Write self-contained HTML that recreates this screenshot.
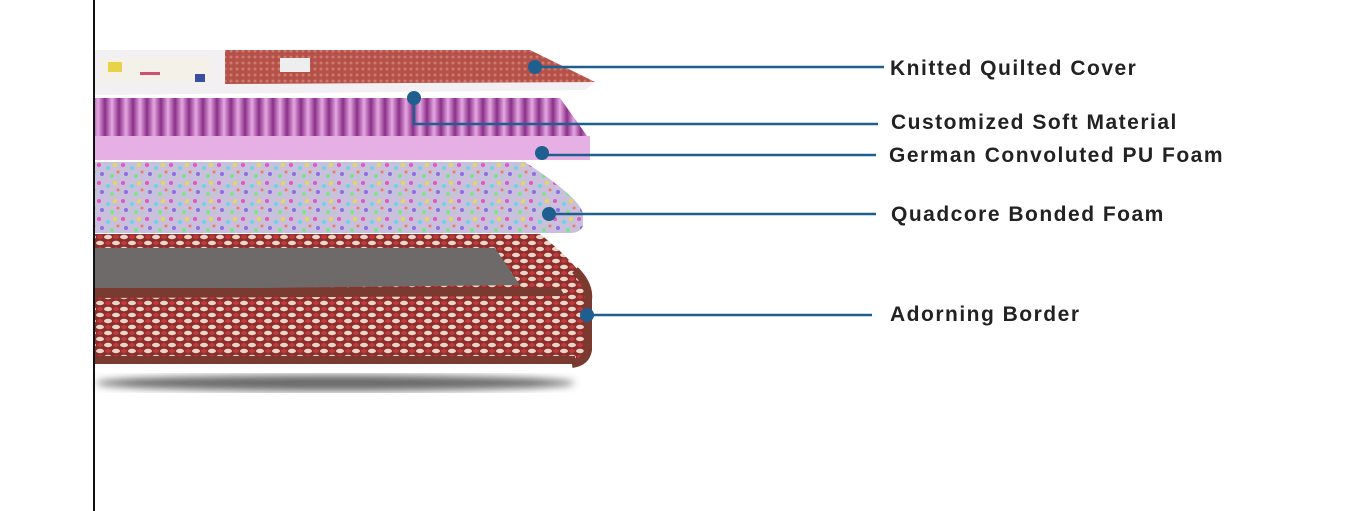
<!DOCTYPE html>
<html><head><meta charset="utf-8"><style>
html,body{margin:0;padding:0;background:#fff;width:1366px;height:511px;overflow:hidden}
svg{display:block}
text{font-family:"Liberation Sans",sans-serif;font-weight:bold;font-size:21px;fill:#222;letter-spacing:1.5px}
</style></head><body>
<svg width="1366" height="511" viewBox="0 0 1366 511">
<defs>
<linearGradient id="sh" x1="0" y1="0" x2="0" y2="1"><stop offset="0" stop-color="#fff"/><stop offset=".5" stop-color="#555"/><stop offset="1" stop-color="#fff"/></linearGradient>
<linearGradient id="st" x1="0" y1="0" x2="1" y2="0"><stop offset="0" stop-color="#e6a8e2"/><stop offset=".5" stop-color="#8a2f88"/><stop offset="1" stop-color="#e6a8e2"/></linearGradient>
<pattern id="wave" width="14" height="60" patternUnits="userSpaceOnUse"><rect width="14" height="60" fill="url(#st)"/></pattern>
<pattern id="conf" width="24" height="18" patternUnits="userSpaceOnUse"><rect width="24" height="18" fill="#c9c0dc"/><circle cx="3" cy="3" r="2" fill="#e455c7"/><circle cx="12" cy="6" r="2" fill="#6fd3e8"/><circle cx="19" cy="3" r="2" fill="#e9d94f"/><circle cx="6" cy="12" r="2" fill="#8a6fe2"/><circle cx="16" cy="14" r="2" fill="#7ee38c"/><circle cx="22" cy="10" r="1.5" fill="#f07a6a"/></pattern>
<pattern id="weave" width="16" height="12" patternUnits="userSpaceOnUse"><rect width="16" height="12" fill="#8a2f2c"/><ellipse cx="4" cy="3" rx="4" ry="2.2" fill="#e8d6c8"/><ellipse cx="12" cy="9" rx="4" ry="2.2" fill="#e8d6c8"/><ellipse cx="12" cy="3" rx="3" ry="2" fill="#c0393b"/><ellipse cx="4" cy="9" rx="3" ry="2" fill="#c0393b"/></pattern>
<pattern id="knit" width="6" height="6" patternUnits="userSpaceOnUse"><rect width="6" height="6" fill="#b4524a"/><circle cx="3" cy="3" r="1.5" fill="#d07a6e"/></pattern>
<filter id="bl"><feGaussianBlur stdDeviation="4"/></filter>
</defs>
<line x1="94" y1="0" x2="94" y2="511" stroke="#111" stroke-width="2"/>
<ellipse cx="335" cy="383" rx="240" ry="8" fill="#444" opacity=".8" filter="url(#bl)"/>
<!-- border -->
<path d="M95 234 L540 234 Q585 270 588 290 L588 350 Q585 362 570 364 L95 364Z" fill="url(#weave)"/>
<path d="M95 248 L495 248 L520 285 L95 290Z" fill="#6e6a6a"/>
<path d="M95 288 L560 288 L565 296 L95 298Z" fill="#7a3a30"/>
<path d="M95 356 L575 356 L575 364 L95 364Z" fill="#7a3a30"/>
<path d="M575 270 Q590 285 588 300 L588 350 Q586 362 572 364" fill="none" stroke="#7a3a30" stroke-width="8"/>
<!-- bonded foam -->
<path d="M95 162 L525 162 Q583 200 583 215 L583 226 Q580 233 570 233 L95 233Z" fill="url(#conf)"/>
<!-- convoluted -->
<path d="M95 98 L560 98 L590 140 L590 155 L575 160 L95 160Z" fill="url(#wave)"/>
<rect x="95" y="136" width="495" height="24" fill="#e6b0e4"/>
<!-- cover -->
<path d="M95 50 L530 50 L595 82 L585 90 L95 95Z" fill="#f2f0f2"/>
<path d="M225 50 L530 50 L595 82 L225 84Z" fill="url(#knit)"/>
<rect x="100" y="58" width="110" height="24" fill="#f4f1e8"/>
<rect x="108" y="62" width="14" height="10" fill="#e8d24a"/><rect x="140" y="72" width="20" height="3" fill="#d05070"/><rect x="195" y="74" width="10" height="8" fill="#3b4fa0"/>
<rect x="280" y="58" width="30" height="14" fill="#eee"/>
<!-- connectors -->
<g stroke="#1f5f8f" stroke-width="2.5" fill="none">
<line x1="535" y1="67" x2="884" y2="67"/>
<polyline points="414,98 414,124 878,124"/>
<line x1="542" y1="155" x2="876" y2="155"/>
<line x1="549" y1="214" x2="876" y2="214"/>
<line x1="587" y1="315" x2="872" y2="315"/>
</g>
<g fill="#1f5f8f">
<circle cx="535" cy="67" r="7"/><circle cx="414" cy="98" r="7"/><circle cx="542" cy="153" r="7"/><circle cx="549" cy="214" r="7"/><circle cx="587" cy="315" r="7"/>
</g>
<text x="890" y="75">Knitted Quilted Cover</text>
<text x="891" y="129">Customized Soft Material</text>
<text x="889" y="162">German Convoluted PU Foam</text>
<text x="891" y="221">Quadcore Bonded Foam</text>
<text x="890" y="321">Adorning Border</text>
</svg>
</body></html>
